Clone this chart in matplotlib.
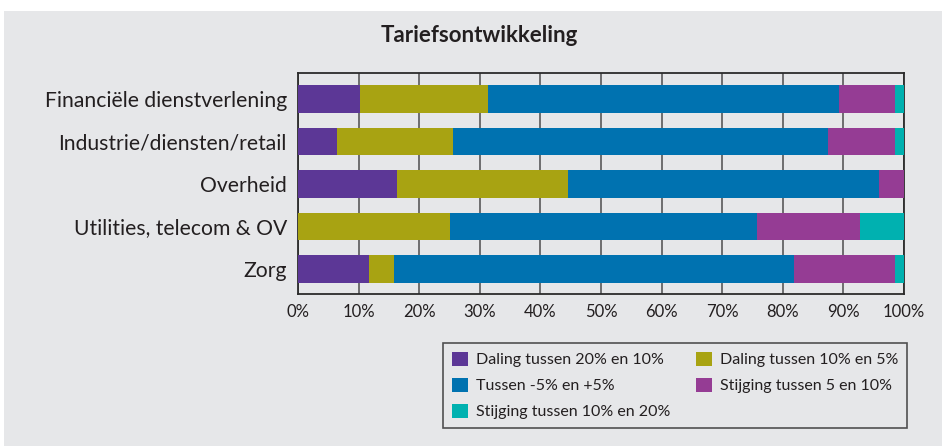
import numpy as np
import matplotlib.pyplot as plt
from matplotlib.patches import Rectangle

plt.rcParams['font.family'] = ['Lato', 'DejaVu Sans']

categories = ["Financiële dienstverlening", "Industrie/diensten/retail", "Overheid",
              "Utilities, telecom & OV", "Zorg"]
series_names = ["Daling tussen 20% en 10%", "Daling tussen 10% en 5%", "Tussen -5% en +5%",
                "Stijging tussen 5 en 10%", "Stijging tussen 10% en 20%"]
daling_20_10 = [10.2, 6.4, 16.3, 0.0, 11.7]
daling_10_5 = [21.2, 19.2, 28.3, 25.1, 4.1]
tussen_5_5 = [57.9, 61.9, 51.3, 50.6, 66.1]
stijging_5_10 = [9.2, 11.0, 4.1, 17.1, 16.6]
stijging_10_20 = [1.5, 1.5, 0.0, 7.2, 1.5]
tick_labels = ["0%", "10%", "20%", "30%", "40%", "50%", "60%", "70%", "80%", "90%", "100%"]

colors = ["#5c3796", "#a8a312", "#0072b0", "#953c94", "#00b1b0"]
bg = "#e6e7e9"
txt = "#231f20"

fig = plt.figure(figsize=(9.42, 4.46), dpi=100, facecolor="white")
# grijze achtergrond
fig.patches.append(Rectangle((4 / 942, 0), 1, 1 - 11 / 446, transform=fig.transFigure,
                             facecolor=bg, edgecolor="none", zorder=-10))

ax = fig.add_axes([0.3163, 0.3401, 0.6433, 0.4955])
ax.set_facecolor(bg)

y = np.arange(len(categories))
data = [daling_20_10, daling_10_5, tussen_5_5, stijging_5_10, stijging_10_20]
left = np.zeros(len(categories))
for vals, name, col in zip(data, series_names, colors):
    ax.barh(y, vals, left=left, height=0.65, color=col, label=name, zorder=3)
    left += np.array(vals)

ax.set_xlim(0, 100)
ax.set_ylim(len(categories) - 0.4, -0.6)
ax.set_yticks(y)
ax.set_yticklabels(categories, fontsize=15.2, color=txt)
ax.set_xticks(np.arange(0, 101, 10))
ax.set_xticklabels(tick_labels, fontsize=12, color=txt)
ax.tick_params(axis="both", length=0, pad=7)
ax.tick_params(axis="y", pad=8)
ax.grid(axis="x", color="#4d4d4d", linewidth=1.1, zorder=1)
for s in ax.spines.values():
    s.set_color("#2b2b2b")
    s.set_linewidth(1.3)

fig.text(479 / 942, 1 - 35 / 446, "Tariefsontwikkeling", ha="center", va="center",
         fontsize=16, fontweight="bold", color=txt)

# legenda rij voor rij vullen
h, l = ax.get_legend_handles_labels()
order = [0, 2, 4, 1, 3]
leg = fig.legend([h[i] for i in order], [l[i] for i in order], loc="upper right",
                 bbox_to_anchor=(906.7 / 942, 1 - 343 / 446), borderaxespad=0,
                 ncol=2, fontsize=11.5, frameon=True, fancybox=False,
                 handlelength=1.0, handleheight=1.0, handletextpad=0.5,
                 columnspacing=1.6, labelspacing=0.65, borderpad=0.55)
leg.get_frame().set_facecolor(bg)
leg.get_frame().set_edgecolor("#2b2b2b")
leg.get_frame().set_linewidth(1.2)
for t in leg.get_texts():
    t.set_color(txt)

fig.savefig("out.png", dpi=100, facecolor="white")
